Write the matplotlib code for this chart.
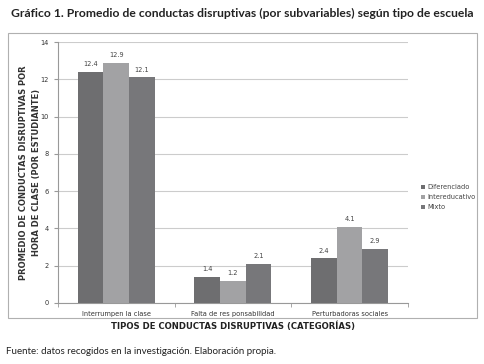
import matplotlib.pyplot as plt
import numpy as np
from matplotlib.patches import Rectangle

categorias = ['Interrumpen la clase', 'Falta de res ponsabilidad', 'Perturbadoras sociales']
series = ['Diferenciado', 'Intereducativo', 'Mixto']
diferenciado = [12.4, 1.4, 2.4]
intereducativo = [12.9, 1.2, 4.1]
mixto = [12.1, 2.1, 2.9]
colores = ['#6e6e70', '#a2a2a4', '#77777a']

fig = plt.figure(figsize=(4.85, 3.64), dpi=100)
ax = fig.add_axes([0.1196, 0.1676, 0.7214, 0.717])

# marco del grafico
fig.patches.append(Rectangle((0.0165, 0.1264), 0.967, 0.783, transform=fig.transFigure,
                             fill=False, edgecolor='#b0b0b0', linewidth=0.8))

x = np.arange(len(categorias))
w = 0.22
for i, (vals, nombre) in enumerate(zip([diferenciado, intereducativo, mixto], series)):
    pos = x + (i - 1) * w
    ax.bar(pos, vals, w, color=colores[i], label=nombre, zorder=3)
    for p, v in zip(pos, vals):
        ax.text(p, v + 0.25, f'{v:.1f}', ha='center', va='bottom', fontsize=4.8, color='#444444')

ax.set_xlim(-0.5, 2.5)
ax.set_ylim(0, 14)
ax.set_yticks(range(0, 15, 2))
ax.grid(axis='y', color='#cccccc', linewidth=0.8, zorder=0)
ax.set_xticks(x)
ax.set_xticklabels(categorias, fontsize=4.8, color='#333333')
ax.set_xticks([-0.5, 0.5, 1.5, 2.5], minor=True)
ax.tick_params(axis='x', which='major', length=0, pad=6)
ax.tick_params(axis='x', which='minor', length=3, color='#999999')
ax.tick_params(axis='y', labelsize=4.8, length=3, color='#999999', labelcolor='#333333')
for s in ['top', 'right']:
    ax.spines[s].set_visible(False)
for s in ['left', 'bottom']:
    ax.spines[s].set_color('#999999')

ax.set_ylabel('PROMEDIO DE CONDUCTAS DISRUPTIVAS POR\nHORA DE CLASE (POR ESTUDIANTE)',
              fontsize=6.0, fontweight='bold', color='#333333', labelpad=0, linespacing=1.5)
ax.set_xlabel('TIPOS DE CONDUCTAS DISRUPTIVAS (CATEGORÍAS)', fontsize=6.1,
              fontweight='bold', color='#222222', labelpad=3)

ax.legend(loc='center left', bbox_to_anchor=(1.02, 0.405), frameon=False, fontsize=4.8,
          handlelength=0.6, handleheight=0.6, handletextpad=0.3, labelspacing=0.6,
          labelcolor='#444444')

fig.text(0.5, 0.962, 'Gráfico 1. Promedio de conductas disruptivas (por subvariables) según tipo de escuela',
         ha='center', va='center', fontsize=8.7, fontweight='bold', color='#222222',
         family='Lato')
fig.text(0.012, 0.033, 'Fuente: datos recogidos en la investigación. Elaboración propia.',
         ha='left', va='center', fontsize=7.0, color='#222222', family='Lato')

fig.savefig('out.png', dpi=100)
